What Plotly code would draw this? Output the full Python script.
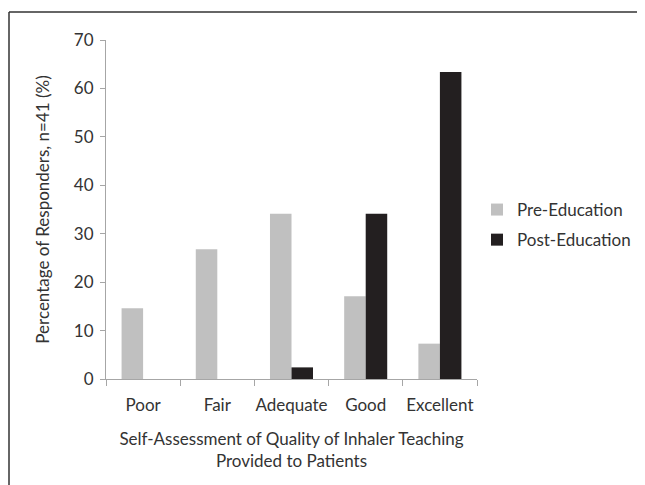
import plotly.graph_objects as go

categories = ["Poor", "Fair", "Adequate", "Good", "Excellent"]
pre_education = [14.6, 26.8, 34.1, 17.1, 7.3]
post_education = [0, 0, 2.4, 34.1, 63.4]
y_ticks = [0, 10, 20, 30, 40, 50, 60, 70]

W, H = 645, 485
OFF = 8  # page body margin offset
L, R, T, B = 98, 176, 32, 114
pw, ph = W - L - R, H - T - B

def px(sx):
    return (sx - OFF - L) / pw

def py(sy):
    return (H - B - (sy - OFF)) / ph

font = "Lato, 'Open Sans', sans-serif"
fig = go.Figure()
fig.add_trace(go.Bar(x=categories, y=pre_education, name="Pre-Education", legendgroup="a",
                     marker=dict(color="#c0c0c0", line=dict(width=0))))
fig.add_trace(go.Bar(x=categories, y=post_education, name="Post-Education", legendgroup="b",
                     marker=dict(color="#231f20", line=dict(width=0))))

fig.update_layout(
    width=W, height=H,
    margin=dict(l=L, r=R, t=T, b=B),
    paper_bgcolor="white", plot_bgcolor="white",
    barmode="group", bargap=0.42, bargroupgap=0,
    font=dict(family=font, size=17, color="#333333"),
    legend=dict(x=px(477), y=py(225), xanchor="left", yanchor="middle",
                font=dict(size=17, color="#333333"), tracegroupgap=5,
                itemsizing="constant"),
    xaxis=dict(showline=True, linecolor="#a6a6a6", linewidth=1, automargin=False,
               ticks="outside", tickson="boundaries", ticklen=6, tickcolor="#a6a6a6",
               showgrid=False, tickangle=0, tickfont=dict(size=17), ticklabelstandoff=11,
               title=dict(text="Self-Assessment of Quality of Inhaler Teaching<br>Provided to Patients",
                          font=dict(size=17), standoff=18)),
    yaxis=dict(range=[0, 70], tickvals=y_ticks, showline=True, linecolor="#a6a6a6",
               linewidth=1, ticks="outside", ticklen=5, tickcolor="#a6a6a6", automargin=False,
               showgrid=False, zeroline=False, tickfont=dict(size=17), ticklabelstandoff=3,
               title=dict(text="Percentage of Responders, n=41 (%)", font=dict(size=17),
                          standoff=19)),
    shapes=[
        dict(type="line", xref="paper", yref="paper", x0=px(9), x1=px(9),
             y0=py(12), y1=py(500), line=dict(color="#333333", width=1.5)),
        dict(type="line", xref="paper", yref="paper", x0=px(9), x1=px(660),
             y0=py(12), y1=py(12), line=dict(color="#333333", width=1.5)),
    ],
)
fig.write_html("out.html")
